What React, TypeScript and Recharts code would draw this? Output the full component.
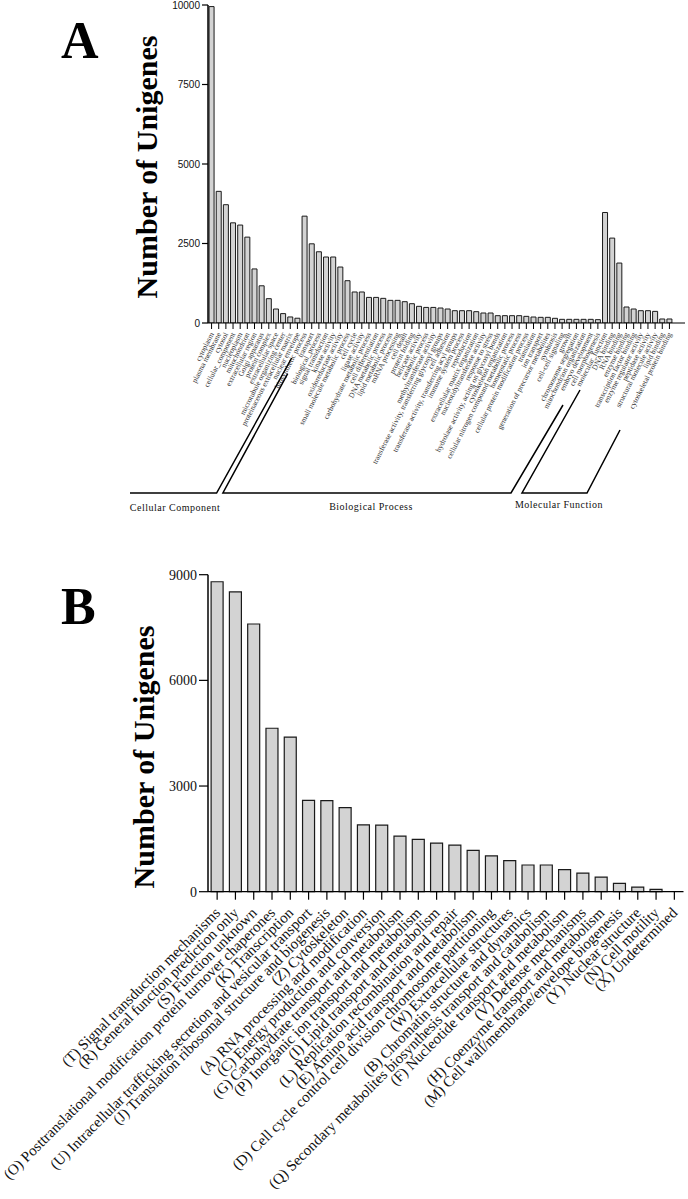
import { BarChart, Bar, XAxis, YAxis } from "recharts";

// Panel A: GO terms
const goTerms = [
  "cytoplasm",
  "plasma membrane",
  "cytosol",
  "cellular_component",
  "nucleoplasm",
  "mitochondrion",
  "extracellular region",
  "Golgi apparatus",
  "protein complex",
  "extracellular space",
  "microtubule organizing center",
  "proteinaceous extracellular matrix",
  "nuclear envelope",
  "biosynthetic process",
  "transport",
  "biological_process",
  "signal transduction",
  "kinase activity",
  "oxidoreductase activity",
  "small molecule metabolic process",
  "cell cycle",
  "ligase activity",
  "carbohydrate metabolic process",
  "cell differentiation",
  "DNA metabolic process",
  "lipid metabolic process",
  "mRNA processing",
  "cell death",
  "protein folding",
  "helicase activity",
  "catabolic process",
  "methyltransferase activity",
  "transferase activity, transferring glycosyl groups",
  "cell adhesion",
  "transferase activity, transferring acyl groups",
  "immune system process",
  "reproduction",
  "extracellular matrix organization",
  "nucleotidyltransferase activity",
  "response to stress",
  "hydrolase activity, acting on glycosyl bonds",
  "cytoskeleton organization",
  "cellular nitrogen compound metabolic process",
  "homeostatic process",
  "cellular protein modification process",
  "translation",
  "ion transport",
  "generation of precursor metabolites",
  "symbiosis",
  "cell-cell signaling",
  "growth",
  "chromosome segregation",
  "mitochondrion organization",
  "embryo development",
  "cell morphogenesis",
  "molecular_function",
  "DNA binding",
  "RNA binding",
  "enzyme binding",
  "transcription factor binding",
  "enzyme regulator activity",
  "peptidase activity",
  "structural molecule activity",
  "lipid binding",
  "cytoskeletal protein binding",
];

const goCounts = [
  9950, 4140, 3720, 3150, 3080, 2700, 1700, 1170, 765, 440, 295, 190, 150,
  3360, 2490, 2240, 2075, 2075, 1760, 1330, 975, 975, 805, 805, 775, 712, 712,
  670, 607, 524, 490, 490, 471, 440, 387, 387, 387, 356, 314, 314, 230, 230,
  230, 230, 209, 188, 178, 178, 147, 115, 115, 115, 115, 115, 105,
  3475, 2670, 1885, 503, 440, 387, 387, 366, 126, 126,
];

const goTicks = [0, 2500, 5000, 7500, 10000];

// Panel B: COG classes
const cogTerms = [
  "(T) Signal transduction mechanisms",
  "(R) General function prediction only",
  "(S) Function unknown",
  "(O) Posttranslational modification protein turnover chaperones",
  "(K) Transcription",
  "(U) Intracellular trafficking secretion and vesicular transport",
  "(J) Translation ribosomal structure and biogenesis",
  "(Z) Cytoskeleton",
  "(A) RNA processing and modification",
  "(C) Energy production and conversion",
  "(G) Carbohydrate transport and metabolism",
  "(P) Inorganic ion transport and metabolism",
  "(I) Lipid transport and metabolism",
  "(L) Replication recombination and repair",
  "(E) Amino acid transport and metabolism",
  "(D) Cell cycle control cell division chromosome partitioning",
  "(W) Extracellular structures",
  "(B) Chromatin structure and dynamics",
  "(Q) Secondary metabolites biosynthesis transport and catabolism",
  "(F) Nucleotide transport and metabolism",
  "(V) Defense mechanisms",
  "(H) Coenzyme transport and metabolism",
  "(M) Cell wall/membrane/envelope biogenesis",
  "(Y) Nuclear structure",
  "(N) Cell motility",
  "(X) Undetermined",
];

const cogCounts = [
  8800, 8510, 7600, 4640, 4390, 2595, 2585, 2385, 1900, 1890, 1580, 1485,
  1380, 1325, 1175, 1015, 880, 758, 758, 625, 530, 415, 237, 132, 66, 0,
];

const cogTicks = [0, 3000, 6000, 9000];

const goData = goTerms.map((term, i) => ({ term, count: goCounts[i] }));
const cogData = cogTerms.map((term, i) => ({ term, count: cogCounts[i] }));

const serif = "'Liberation Serif', 'Times New Roman', serif";
const sans = "'Liberation Sans', Arial, sans-serif";

function GoTick(props: any) {
  const { x, y, payload } = props;
  return (
    <text
      transform={`translate(${x + 2.5},${y + 3}) rotate(-63)`}
      textAnchor="end"
      fontSize={7.6}
      fontFamily={serif}
      fill="#333"
    >
      {payload.value}
    </text>
  );
}

function GoYTick(props: any) {
  const { x, y, payload } = props;
  return (
    <text
      x={x}
      y={y}
      dy="0.35em"
      textAnchor="end"
      fontSize={10}
      fontFamily={sans}
      fill="#111"
    >
      {payload.value}
    </text>
  );
}

function CogTick(props: any) {
  const { x, y, payload } = props;
  return (
    <text
      transform={`translate(${x + 4},${y + 12}) rotate(-45)`}
      textAnchor="end"
      fontSize={15}
      fontFamily={serif}
      fill="#111"
    >
      {payload.value}
    </text>
  );
}

function Overlay() {
  return (
    <svg
      width={688}
      height={1199}
      style={{ position: "absolute", left: 0, top: 0, pointerEvents: "none" }}
    >
      <text x={61} y={58} fontSize={52} fontWeight="bold" fontFamily={serif}>A</text>
      <text x={61} y={624} fontSize={52} fontWeight="bold" fontFamily={serif}>B</text>

      <text
        transform="translate(157,167) rotate(-90)"
        textAnchor="middle"
        fontSize={30}
        fontWeight="bold"
        fontFamily={serif}
      >
        Number of Unigenes
      </text>
      <text
        transform="translate(154,757) rotate(-90)"
        textAnchor="middle"
        fontSize={30}
        fontWeight="bold"
        fontFamily={serif}
      >
        Number of Unigenes
      </text>

      <g stroke="#000" strokeWidth={1.5} fill="none">
        <polyline points="130,493 216.6,493 291.7,358" />
        <polyline points="287.7,373.7 222.9,493 511,493 563,405" />
        <polyline points="580,390 522,493 587,493 620,430" />
      </g>
      <g fontSize={10} fontFamily={serif} fill="#111" letterSpacing={0.5}>
        <text x={175} y={511} textAnchor="middle">Cellular Component</text>
        <text x={371} y={510} textAnchor="middle">Biological Process</text>
        <text x={559} y={508} textAnchor="middle">Molecular Function</text>
      </g>
    </svg>
  );
}

export default function App() {
  return (
    <div
      style={{
        position: "absolute",
        left: 0,
        top: 0,
        width: 688,
        height: 1199,
        overflow: "hidden",
        background: "#fff",
      }}
    >
      <div style={{ position: "absolute", left: 0, top: -15 }}>
        <BarChart
          width={688}
          height={495}
          data={goData}
          barCategoryGap="15%"
          margin={{ top: 20, right: 3, bottom: 0, left: 0 }}
        >
          <XAxis
            dataKey="term"
            interval={0}
            height={157}
            tick={<GoTick />}
            tickSize={6}
            padding={{ left: 0, right: 12 }}
            axisLine={{ stroke: "#000", strokeWidth: 1.2 }}
            tickLine={{ stroke: "#000", strokeWidth: 1 }}
          />
          <YAxis
            type="number"
            width={208}
            domain={[0, 10000]}
            allowDataOverflow
            ticks={goTicks}
            interval={0}
            tickSize={6}
            tickMargin={2}
            tick={<GoYTick />}
            axisLine={{ stroke: "#000", strokeWidth: 1.5 }}
            tickLine={{ stroke: "#000", strokeWidth: 1.2 }}
          />
          <Bar
            dataKey="count"
            fill="#d3d3d3"
            stroke="#1a1a1a"
            strokeWidth={1}
            isAnimationActive={false}
          />
        </BarChart>
      </div>

      <div style={{ position: "absolute", left: 0, top: 560 }}>
        <BarChart
          width={688}
          height={639}
          data={cogData}
          barCategoryGap="17%"
          margin={{ top: 14.7, right: 4.5, bottom: 0, left: 0 }}
        >
          <XAxis
            dataKey="term"
            interval={0}
            height={307.3}
            tick={<CogTick />}
            tickSize={8}
            axisLine={{ stroke: "#000", strokeWidth: 1.2 }}
            tickLine={{ stroke: "#000", strokeWidth: 1.2 }}
          />
          <YAxis
            width={208}
            domain={[0, 9000]}
            ticks={cogTicks}
            interval={0}
            tickSize={9}
            tickMargin={2}
            tick={{ fontSize: 14, fontFamily: serif, fill: "#111" }}
            axisLine={{ stroke: "#000", strokeWidth: 1.5 }}
            tickLine={{ stroke: "#000", strokeWidth: 1.2 }}
          />
          <Bar
            dataKey="count"
            fill="#d3d3d3"
            stroke="#1a1a1a"
            strokeWidth={1.2}
            isAnimationActive={false}
          />
        </BarChart>
      </div>

      <Overlay />
    </div>
  );
}
